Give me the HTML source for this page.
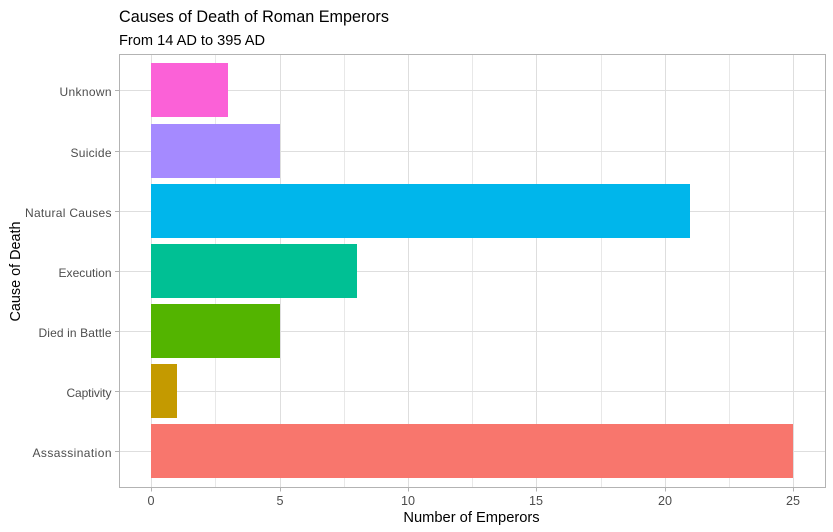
<!DOCTYPE html>
<html lang="en">
<head>
<meta charset="utf-8">
<title>Causes of Death of Roman Emperors</title>
<style>
html,body{margin:0;padding:0;background:#fff;}
body{width:833px;height:532px;overflow:hidden;font-family:"Liberation Sans",Arial,sans-serif;}
svg{display:block;}
</style>
</head>
<body>
<svg id="chart" width="833" height="532" viewBox="0 0 833 532" xmlns="http://www.w3.org/2000/svg"></svg>
<script>
const categories = ["Assassination", "Captivity", "Died in Battle", "Execution", "Natural Causes", "Suicide", "Unknown"];
const counts = [25, 1, 5, 8, 21, 5, 3];
const barColors = ["#F8766D", "#C49A00", "#53B400", "#00C094", "#00B6EB", "#A58AFF", "#FB61D7"];
const xTicks = [0, 5, 10, 15, 20, 25];
const xMinorTicks = [2.5, 7.5, 12.5, 17.5, 22.5];

const svg = document.getElementById('chart');
const NS = 'http://www.w3.org/2000/svg';
const panel = {left: 119.5, right: 825.5, top: 54.5, bottom: 487.5};
const bandHeight = 54;
const labelFit = {"Assassination": 79, "Captivity": 45, "Died in Battle": 73, "Execution": 53, "Natural Causes": 86.5, "Suicide": 41, "Unknown": 52};

function xScale(v) { return 151.6 + v * 25.68; }
function yScale(i) { return 451.6 - i * 60.12; }
function xCol(v) { return Math.floor(xScale(v)); }
function yRow(i) { return Math.floor(yScale(i)); }

function make(tag, attrs, text) {
  const el = document.createElementNS(NS, tag);
  for (const k in attrs) el.setAttribute(k, attrs[k]);
  if (text !== undefined) el.textContent = text;
  svg.appendChild(el);
  return el;
}

const bg = make('rect', {x: panel.left, y: panel.top, width: panel.right - panel.left, height: panel.bottom - panel.top, fill: '#fff'});



xMinorTicks.forEach(function (t) {
  const g = make('line', {x1: xCol(t) + 0.5, x2: xCol(t) + 0.5, y1: panel.top, y2: panel.bottom, stroke: '#e8e8e8', 'stroke-width': 1, 'shape-rendering': 'crispEdges'});
  
  
});
xTicks.forEach(function (t) {
  const g = make('line', {x1: xCol(t) + 0.5, x2: xCol(t) + 0.5, y1: panel.top, y2: panel.bottom, stroke: '#dedede', 'stroke-width': 1, 'shape-rendering': 'crispEdges'});
  
  
});
categories.forEach(function (c, i) {
  const g = make('line', {x1: panel.left, x2: panel.right, y1: yRow(i) + 0.5, y2: yRow(i) + 0.5, stroke: '#dedede', 'stroke-width': 1, 'shape-rendering': 'crispEdges'});
  
  
});

categories.forEach(function (c, i) {
  const bar = make('rect', {x: xCol(0), y: yRow(i) - bandHeight / 2, width: xCol(counts[i]) - xCol(0), height: bandHeight, fill: barColors[i], 'shape-rendering': 'crispEdges'});
  
  

  const tick = make('line', {x1: panel.left - 4.5, x2: panel.left, y1: yRow(i) + 0.5, y2: yRow(i) + 0.5, stroke: '#b3b3b3', 'stroke-width': 1, 'shape-rendering': 'crispEdges'});
  
  

  const label = make('text', {x: 111.5, y: yRow(i) + 6, 'text-anchor': 'end', 'font-size': 12, fill: '#4d4d4d', textLength: labelFit[c] || 50, lengthAdjust: 'spacing'}, c);
  
  
});

xTicks.forEach(function (t) {
  const tick = make('line', {x1: xCol(t) + 0.5, x2: xCol(t) + 0.5, y1: panel.bottom, y2: panel.bottom + 4, stroke: '#b3b3b3', 'stroke-width': 1, 'shape-rendering': 'crispEdges'});
  
  

  const label = make('text', {x: xCol(t), y: 505, 'text-anchor': 'middle', 'font-size': 12.6, fill: '#4d4d4d'}, String(t));
  
  
});

const border = make('rect', {x: panel.left, y: panel.top, width: panel.right - panel.left, height: panel.bottom - panel.top, fill: 'none', stroke: '#b3b3b3', 'stroke-width': 1, 'shape-rendering': 'crispEdges'});



const title = make('text', {x: 119, y: 22, 'font-size': 16.2, fill: '#000'}, 'Causes of Death of Roman Emperors');



const subtitle = make('text', {x: 119, y: 45, 'font-size': 14.6, fill: '#000'}, 'From 14 AD to 395 AD');



const xTitle = make('text', {x: 471.5, y: 522, 'text-anchor': 'middle', 'font-size': 14.7, fill: '#000'}, 'Number of Emperors');



const yTitle = make('text', {x: 0, y: 0, 'text-anchor': 'middle', 'font-size': 14.4, fill: '#000', transform: 'translate(20 271.5) rotate(-90)'}, 'Cause of Death');


</script>
</body>
</html>
